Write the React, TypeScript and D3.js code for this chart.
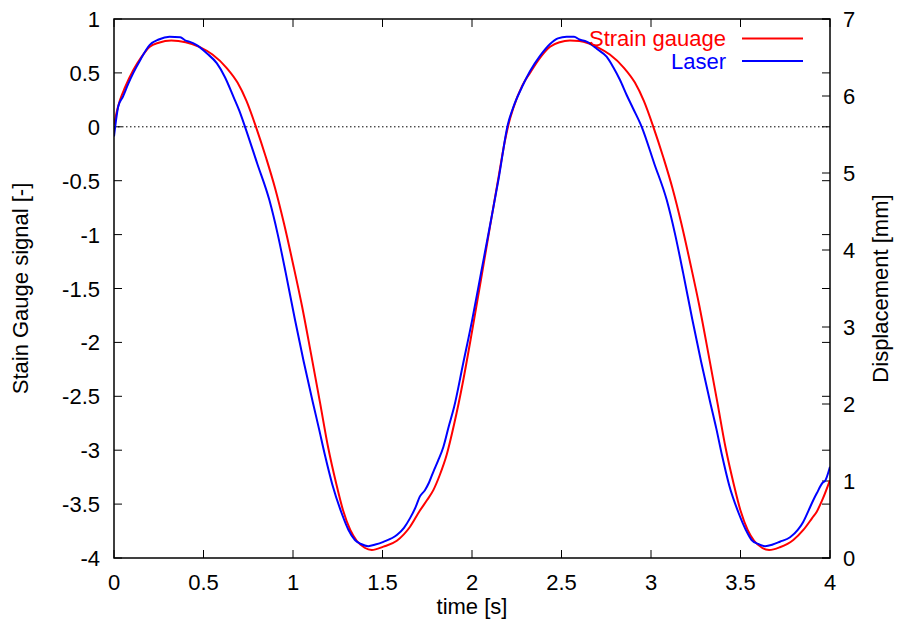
import React from 'react';
import * as d3 from 'd3';

const timeTicks = [0, 0.5, 1, 1.5, 2, 2.5, 3, 3.5, 4];
const signalTicks = [-4, -3.5, -3, -2.5, -2, -1.5, -1, -0.5, 0, 0.5, 1];
const dispTicks = [0, 1, 2, 3, 4, 5, 6, 7];

const seriesNames = ['Strain gauage', 'Laser'];

// Strain gauge signal [-] (left axis)
const strainTime = [0, 0.02, 0.034, 0.06, 0.108, 0.15, 0.2, 0.25, 0.32, 0.4, 0.48, 0.55, 0.63, 0.69, 0.74, 0.793, 0.85, 0.9, 0.95, 1.0, 1.05, 1.1, 1.15, 1.197, 1.24, 1.28, 1.32, 1.356, 1.4, 1.44, 1.505, 1.58, 1.654, 1.709, 1.75, 1.784, 1.82, 1.859, 1.9, 1.95, 2.0, 2.05, 2.1, 2.15, 2.184, 2.21, 2.23, 2.28, 2.324, 2.38, 2.436, 2.49, 2.547, 2.6, 2.65, 2.7, 2.77, 2.85, 2.91, 2.96, 3.013, 3.07, 3.12, 3.17, 3.22, 3.27, 3.32, 3.37, 3.417, 3.46, 3.5, 3.54, 3.576, 3.62, 3.66, 3.72, 3.795, 3.851, 3.9, 3.926, 3.96, 4.0];
const strainSignal = [0.02, 0.17, 0.25, 0.36, 0.527, 0.64, 0.743, 0.78, 0.8, 0.785, 0.74, 0.67, 0.545, 0.41, 0.24, 0, -0.29, -0.57, -0.9, -1.27, -1.66, -2.1, -2.55, -2.98, -3.3, -3.56, -3.74, -3.84, -3.905, -3.926, -3.895, -3.84, -3.71, -3.56, -3.46, -3.37, -3.23, -3.04, -2.76, -2.36, -1.9, -1.42, -0.93, -0.45, -0.13, 0.06, 0.17, 0.38, 0.5, 0.64, 0.743, 0.785, 0.8, 0.795, 0.775, 0.74, 0.67, 0.545, 0.41, 0.24, 0, -0.29, -0.57, -0.9, -1.27, -1.66, -2.1, -2.55, -2.98, -3.3, -3.56, -3.74, -3.84, -3.905, -3.926, -3.9, -3.833, -3.74, -3.63, -3.57, -3.45, -3.277];

// Laser displacement [mm] (right axis)
const laserTime = [0, 0.024, 0.05, 0.08, 0.108, 0.15, 0.2, 0.25, 0.31, 0.37, 0.4, 0.42, 0.46, 0.52, 0.574, 0.62, 0.667, 0.7, 0.732, 0.8, 0.868, 0.915, 0.96, 1.01, 1.06, 1.11, 1.145, 1.179, 1.22, 1.272, 1.31, 1.346, 1.38, 1.42, 1.46, 1.505, 1.58, 1.62, 1.654, 1.685, 1.709, 1.737, 1.76, 1.784, 1.81, 1.84, 1.87, 1.9, 1.95, 2.0, 2.05, 2.1, 2.15, 2.2, 2.23, 2.28, 2.324, 2.38, 2.436, 2.48, 2.529, 2.57, 2.6, 2.64, 2.7, 2.752, 2.79, 2.827, 2.864, 2.9, 2.948, 3.018, 3.088, 3.135, 3.18, 3.23, 3.28, 3.33, 3.365, 3.397, 3.436, 3.49, 3.53, 3.562, 3.6, 3.637, 3.68, 3.72, 3.777, 3.82, 3.851, 3.88, 3.907, 3.926, 3.96, 3.972, 4.0];
const laserDisp = [5.474, 5.866, 5.992, 6.16, 6.3, 6.482, 6.664, 6.734, 6.77, 6.762, 6.72, 6.706, 6.664, 6.552, 6.426, 6.244, 5.992, 5.81, 5.6, 5.124, 4.648, 4.2, 3.696, 3.108, 2.548, 2.03, 1.68, 1.33, 0.952, 0.581, 0.364, 0.234, 0.182, 0.154, 0.175, 0.21, 0.298, 0.392, 0.518, 0.66, 0.8, 0.88, 0.98, 1.12, 1.26, 1.442, 1.708, 1.96, 2.52, 3.08, 3.696, 4.312, 4.942, 5.628, 5.85, 6.12, 6.32, 6.52, 6.675, 6.748, 6.77, 6.769, 6.734, 6.706, 6.608, 6.51, 6.37, 6.208, 6.013, 5.838, 5.6, 5.124, 4.648, 4.2, 3.696, 3.108, 2.548, 2.03, 1.68, 1.33, 0.952, 0.581, 0.364, 0.234, 0.182, 0.154, 0.175, 0.211, 0.269, 0.364, 0.472, 0.616, 0.753, 0.84, 0.98, 1.0, 1.186];

const FONT = '"Liberation Sans", Arial, Helvetica, sans-serif';
const FS = 22;

export default function App() {
  const W = 897, H = 630;
  const L = 114, R = 830, T = 19, B = 558;
  const x = d3.scaleLinear().domain([0, 4]).range([L, R]);
  const y = d3.scaleLinear().domain([-4, 1]).range([B, T]);
  const y2 = d3.scaleLinear().domain([0, 7]).range([B, T]);
  const tick = 8;

  const strainLine = d3.line<number>()
    .x((_, i) => x(strainTime[i]))
    .y((d) => y(d))
    .curve(d3.curveMonotoneX)(strainSignal) || '';
  const laserLine = d3.line<number>()
    .x((_, i) => x(laserTime[i]))
    .y((d) => y2(d))
    .curve(d3.curveMonotoneX)(laserDisp) || '';

  return (
    <svg width={W} height={H} style={{ position: 'absolute', left: 0, top: 0, background: '#fff' }} fontFamily={FONT} fontSize={FS}>
      <rect x={0} y={0} width={W} height={H} fill="#fff" />
      <defs>
        <clipPath id="plotclip">
          <rect x={L} y={T} width={R - L} height={B - T} />
        </clipPath>
      </defs>
      <line x1={L} x2={R} y1={y(0)} y2={y(0)} stroke="#000" strokeWidth={1} strokeDasharray="1.5,2.5" />
      {timeTicks.map((t) => (
        <g key={'xt' + t}>
          <line x1={x(t)} x2={x(t)} y1={B} y2={B - tick} stroke="#000" strokeWidth={1} />
          <line x1={x(t)} x2={x(t)} y1={T} y2={T + tick} stroke="#000" strokeWidth={1} />
          <text x={x(t)} y={590} textAnchor="middle" fill="#000">{String(t)}</text>
        </g>
      ))}
      {signalTicks.map((v) => (
        <g key={'yt' + v}>
          <line x1={L} x2={L + tick} y1={y(v)} y2={y(v)} stroke="#000" strokeWidth={1} />
          <line x1={R} x2={R - tick} y1={y(v)} y2={y(v)} stroke="#000" strokeWidth={1} />
          <text x={100} y={y(v) + 8} textAnchor="end" fill="#000">{String(v)}</text>
        </g>
      ))}
      {dispTicks.map((v) => (
        <g key={'y2t' + v}>
          <line x1={R} x2={R - tick} y1={y2(v)} y2={y2(v)} stroke="#000" strokeWidth={1} />
          <text x={843} y={y2(v) + 8} textAnchor="start" fill="#000">{String(v)}</text>
        </g>
      ))}
      <g clipPath="url(#plotclip)">
        <path d={strainLine} fill="none" stroke="#ff0000" strokeWidth={2} />
        <path d={laserLine} fill="none" stroke="#0000ff" strokeWidth={2} />
      </g>
      <rect x={L} y={T} width={R - L} height={B - T} fill="none" stroke="#000" strokeWidth={1.5} />
      <text x={726} y={46} textAnchor="end" fill="#ff0000">{seriesNames[0]}</text>
      <line x1={742} x2={803} y1={38.5} y2={38.5} stroke="#ff0000" strokeWidth={2} />
      <text x={726} y={69} textAnchor="end" fill="#0000ff">{seriesNames[1]}</text>
      <line x1={742} x2={803} y1={61} y2={61} stroke="#0000ff" strokeWidth={2} />
      <text x={(L + R) / 2} y={614} textAnchor="middle" fill="#000">time [s]</text>
      <text transform={`translate(28,${(T + B) / 2}) rotate(-90)`} textAnchor="middle" fill="#000">Stain Gauge signal [-]</text>
      <text transform={`translate(888,${(T + B) / 2}) rotate(-90)`} textAnchor="middle" fill="#000">Displacement [mm]</text>
    </svg>
  );
}
